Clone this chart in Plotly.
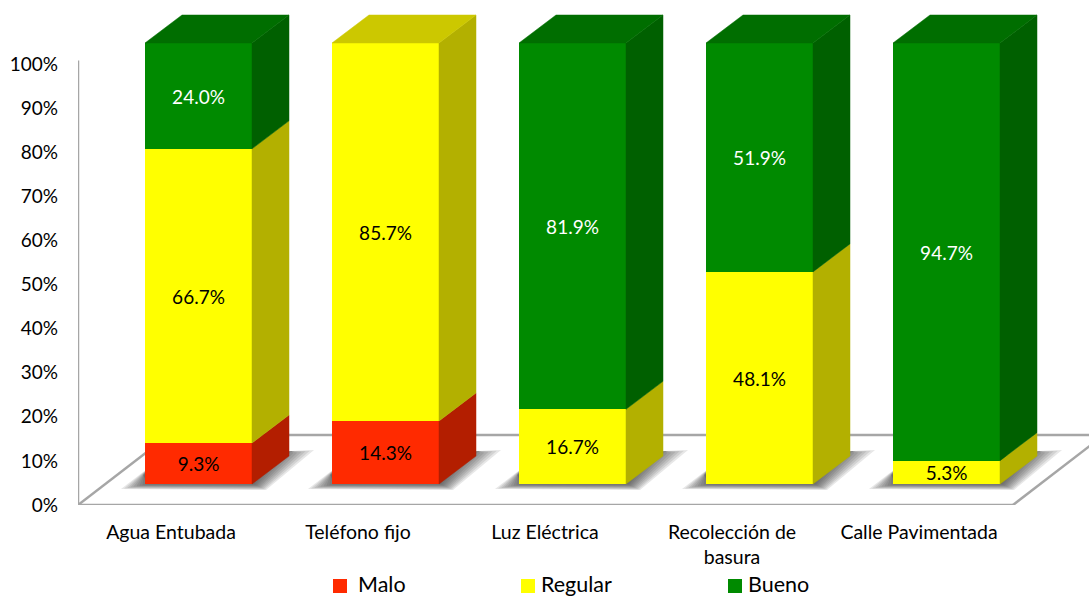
import plotly.graph_objects as go

categories = ["Agua Entubada", "Teléfono fijo", "Luz Eléctrica", "Recolección de<br>basura", "Calle Pavimentada"]
malo = [9.3, 14.3, 0, 0, 0]
regular = [66.7, 85.7, 16.7, 48.1, 5.3]
bueno = [24.0, 0, 81.9, 51.9, 94.7]
y_ticks = [0, 10, 20, 30, 40, 50, 60, 70, 80, 90, 100]

FONT = "Lato"
GRAY = "#A6A6A6"
styles = [
    ("Malo", malo, "#FF2A00", "#B31E00", "#CC2200", "#000000"),
    ("Regular", regular, "#FFFF00", "#B3B000", "#CCC800", "#000000"),
    ("Bueno", bueno, "#008A00", "#006000", "#006E00", "#FFFFFF"),
]

PX_X, PX_Y = 187.0, 4.41          # pixels per category / per percent
DX, DY = 37 / PX_X, 28 / PX_Y     # oblique depth of every bar
LIFT = 21 / PX_Y                  # bars stand above the front edge of the floor
OFFSET = 27.5 / PX_X              # front faces sit right of the axis categories
WIDTH = 107 / PX_X

n = len(categories)
totals = [malo[i] + regular[i] + bueno[i] for i in range(n)]
centers = [i + OFFSET for i in range(n)]

fig = go.Figure()
bases = [LIFT] * n
stack = []
for name, vals, front, side, top, txt in styles:
    shares = [v / t * 100 for v, t in zip(vals, totals)]
    fig.add_bar(
        x=centers, y=shares, base=list(bases), width=WIDTH, name=name,
        marker=dict(color=front, line=dict(width=0)),
        text=[f"{v:.1f}%" if v else "" for v in vals],
        textposition="inside", insidetextanchor="middle", textangle=0,
        constraintext="none",
        textfont=dict(family=FONT, size=19, color=txt),
        showlegend=False, hovertemplate=name + ": %{text}<extra></extra>",
    )
    stack.append((list(bases), shares, side, top))
    bases = [b + s for b, s in zip(bases, shares)]

# oblique side and top faces, computed from the same shares
for k, (b0, shares, side, top) in enumerate(stack):
    sx, sy, tx, ty = [], [], [], []
    for i in range(n):
        if shares[i] <= 0:
            continue
        xl, xr = centers[i] - WIDTH / 2, centers[i] + WIDTH / 2
        y0, y1 = b0[i], b0[i] + shares[i]
        sx += [xr, xr + DX, xr + DX, xr, xr, None]
        sy += [y0, y0 + DY, y1 + DY, y1, y0, None]
        if all(stack[j][1][i] <= 0 for j in range(k + 1, len(stack))):
            tx += [xl, xl + DX, xr + DX, xr, xl, None]
            ty += [y1, y1 + DY, y1 + DY, y1, y1, None]
    for px, py, col in ((sx, sy, side), (tx, ty, top)):
        if px:
            fig.add_scatter(x=px, y=py, mode="lines", fill="toself", fillcolor=col,
                            line=dict(width=0.5, color=col), hoverinfo="skip", showlegend=False)

# floor and walls
FLOOR = 70 / PX_Y
FLOOR_L, FLOOR_R = (78 - 171) / PX_X, (1013 - 171) / PX_X
FLOOR_DX = 91 / PX_X
shapes = []
def seg(x0, y0, x1, y1):
    shapes.append(dict(type="line", xref="x", yref="y", x0=x0, y0=y0, x1=x1, y1=y1,
                       layer="below", line=dict(color=GRAY, width=2.5)))
seg(FLOOR_L, 0, FLOOR_R, 0)
seg(FLOOR_L, 0, FLOOR_L + FLOOR_DX, FLOOR)
seg(FLOOR_R, 0, FLOOR_R + FLOOR_DX, FLOOR)
seg(FLOOR_L + FLOOR_DX, FLOOR, FLOOR_R + FLOOR_DX, FLOOR)
seg(FLOOR_L, 0, FLOOR_L, 100.8)

# soft shadows on the floor, from stacked translucent outlines
for c in centers:
    xl, xr = c - WIDTH / 2, c + WIDTH / 2
    for step in range(10):
        g = step * 2.2  # pixels the outline shrinks by
        def P(ref, dx, dy):
            return (ref + dx / PX_X, LIFT + dy / PX_Y)
        pts = [
            P(xl, -24 + g * 1.4, -5 + g * 0.25),
            P(xl, 2 - g * 0.2, 15 - g * 0.3),
            P(xr, 40, 33),
            P(xr, 62 - g * 1.9, 34 - g * 0.3),
            P(xr, 14 - g * 0.6, -6 + g * 0.3),
        ]
        path = "M " + " L ".join(f"{px:.4f},{py:.3f}" for px, py in pts) + " Z"
        shapes.append(dict(type="path", xref="x", yref="y", path=path, layer="below",
                           fillcolor="rgba(60,60,60,0.12)", line=dict(width=0)))

# legend row: its own hidden subplot under the main plot
BOTTOM = 92 / 597
LEG_Y = (505 - 586) / PX_Y
leg_sq = [(340 - 171) / PX_X, (528 - 171) / PX_X, (735 - 171) / PX_X]
leg_tx = [(356 - 171) / PX_X, (539 - 171) / PX_X, (746 - 171) / PX_X]
annotations = []
for (name, _, front, _, _, _), xs, xt in zip(styles, leg_sq, leg_tx):
    fig.add_scatter(x=[xs], y=[LEG_Y], xaxis="x2", yaxis="y2", mode="markers",
                    cliponaxis=False, showlegend=False,
                    marker=dict(symbol="square", size=14, color=front, line=dict(width=0)),
                    hoverinfo="skip")
    annotations.append(dict(x=xt, y=LEG_Y, xref="x2", yref="y2", text=name, showarrow=False,
                            xanchor="left", yanchor="middle", yshift=2,
                            font=dict(family=FONT, size=21.5, color="#000000")))

X_RANGE = [(78 - 171) / PX_X, (1089 - 171) / PX_X]
fig.update_layout(
    width=1089, height=597, autosize=False,
    margin=dict(l=78, r=0, t=0, b=0),
    paper_bgcolor="white", plot_bgcolor="white",
    barmode="overlay", bargap=0,
    font=dict(family=FONT, size=19, color="#000000"),
    shapes=shapes, annotations=annotations,
    xaxis=dict(range=X_RANGE, domain=[0, 1], anchor="y", tickmode="array", automargin=False,
               tickvals=list(range(n)), ticktext=categories, tickangle=0,
               showgrid=False, zeroline=False, showline=False, ticks="",
               ticklabelstandoff=13, tickfont=dict(family=FONT, size=19.5, color="#000000")),
    yaxis=dict(range=[0, 505 / PX_Y], domain=[BOTTOM, 1], anchor="x", tickmode="array", automargin=False,
               tickvals=y_ticks, ticktext=[f"{t}%" for t in y_ticks],
               showgrid=False, zeroline=False, showline=False, ticks="",
               ticklabelstandoff=19, tickfont=dict(family=FONT, size=19, color="#000000")),
    xaxis2=dict(range=X_RANGE, domain=[0, 1], anchor="y2", visible=False, automargin=False),
    yaxis2=dict(range=[-92 / PX_Y, 0], domain=[0, BOTTOM], anchor="x2", visible=False, automargin=False),
)
fig.write_html("out.html", config=dict(displayModeBar=False),
               post_script="document.body.style.margin='0';document.documentElement.style.overflow='hidden';")
